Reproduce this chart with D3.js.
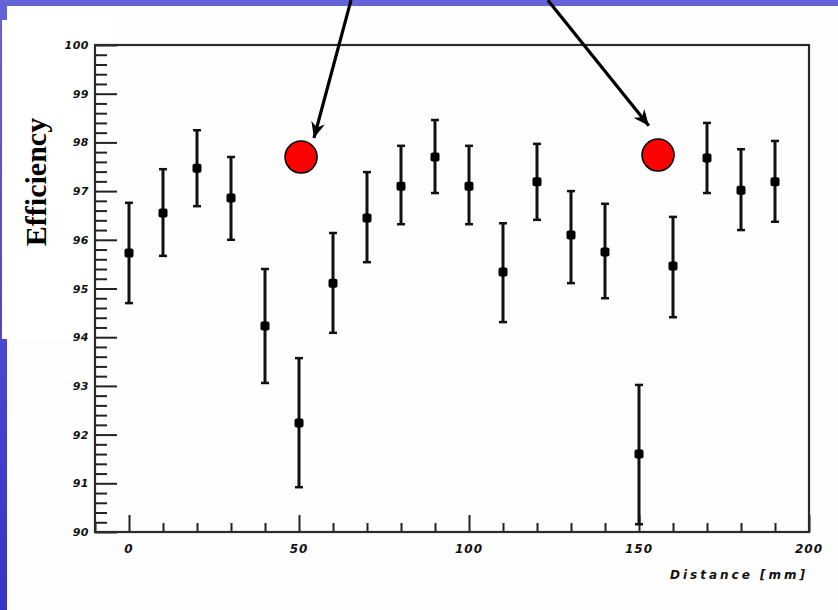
<!DOCTYPE html>
<html><head><meta charset="utf-8">
<script src="https://cdn.jsdelivr.net/npm/d3@7"></script>
<style>body{margin:0;background:#fff}svg{display:block}</style>
</head><body>
<svg id="c" width="838" height="610"></svg>
<script>
// ---- data ----
const distance = [0,10,20,30,40,50,60,70,80,90,100,110,120,130,140,150,160,170,180,190];
const efficiency = [0.9573,0.9655,0.9747,0.9686,0.9423,0.9224,0.9511,0.9645,0.9710,0.9770,0.9710,0.9534,0.9719,0.9610,0.9575,0.9160,0.9546,0.9768,0.9702,0.9719];
const errHigh = [0.9676,0.9745,0.9825,0.9770,0.9540,0.9357,0.9614,0.9739,0.9793,0.9846,0.9793,0.9634,0.9797,0.9700,0.9674,0.9302,0.9647,0.9840,0.9786,0.9803];
const errLow = [0.9470,0.9567,0.9669,0.9600,0.9306,0.9092,0.9409,0.9554,0.9632,0.9696,0.9632,0.9431,0.9641,0.9511,0.9480,0.9016,0.9441,0.9696,0.9620,0.9637];
const highlightX = [50.6, 155.6];
const highlightY = [0.9770, 0.9774];
const arrowFromX = [65.3, 123.2];
const arrowFromY = [1.0092, 1.0092];
const arrowToX = [54.4, 152.9];
const arrowToY = [0.9809, 0.9834];
const xTicks = [0,50,100,150,200];
const xTickLabels = ["0","50","100","150","200"];
const xMinor = [-10,10,20,30,40,60,70,80,90,110,120,130,140,160,170,180,190];
const yTicks = [0.90,0.91,0.92,0.93,0.94,0.95,0.96,0.97,0.98,0.99,1.00];
const yTickLabels = ["90","91","92","93","94","95","96","97","98","99","100"];
const xTitle = "Distance [mm]";
const yTitle = "Efficiency";

// ---- layout ----
const svg = d3.select("#c");
const L = 95, R = 809, T = 45, B = 532;
const x = d3.scaleLinear().domain([-10,200]).range([L,R]);
const y = d3.scaleLinear().domain([0.90,1.00]).range([B,T]);

// background (slide)
const defs = svg.append("defs");
const g = defs.append("linearGradient").attr("id","bg").attr("x1",0).attr("y1",0).attr("x2",0).attr("y2",1);
g.append("stop").attr("offset","0").attr("stop-color","#6463d8");
g.append("stop").attr("offset","1").attr("stop-color","#3731c6");
svg.append("rect").attr("width",838).attr("height",610).attr("fill","url(#bg)");
svg.append("rect").attr("x",7).attr("y",6).attr("width",831).attr("height",604).attr("fill","#fefefe");
svg.append("rect").attr("x",2).attr("y",20).attr("width",110).attr("height",319).attr("fill","#ffffff");

// axes with inward ticks
const yMinorVals = d3.range(0,51).map(i => 0.90 + i*0.002).filter(v => Math.abs(Math.round(v*100) - v*100) > 1e-6);
svg.append("g").attr("transform",`translate(${L},0)`)
  .call(d3.axisRight(y).tickValues(yMinorVals).tickSize(12).tickFormat(""))
  .call(s => s.select(".domain").remove());
svg.append("g").attr("transform",`translate(${L},0)`)
  .call(d3.axisRight(y).tickValues(yTicks).tickSize(22).tickFormat(""))
  .call(s => s.select(".domain").remove());
svg.append("g").attr("transform",`translate(0,${B})`)
  .call(d3.axisTop(x).tickValues(xMinor).tickSize(9).tickFormat(""))
  .call(s => s.select(".domain").remove());
svg.append("g").attr("transform",`translate(0,${B})`)
  .call(d3.axisTop(x).tickValues(xTicks).tickSize(17).tickFormat(""))
  .call(s => s.select(".domain").remove());
svg.selectAll(".tick line").attr("stroke","#222").attr("stroke-width",2);

// frame
svg.append("rect").attr("x",L).attr("y",T).attr("width",R-L).attr("height",B-T)
  .attr("fill","none").attr("stroke","#2a2a2a").attr("stroke-width",2.2);

// tick labels
const lblFont = "'DejaVu Sans', sans-serif";
svg.append("g").selectAll("text").data(yTicks).join("text")
  .attr("x",L-6).attr("y",d=>y(d)+4).attr("text-anchor","end")
  .attr("font-family",lblFont).attr("font-size",11).attr("font-weight","bold").attr("font-style","italic")
  .attr("letter-spacing",0.5).attr("fill","#111").text((d,i)=>yTickLabels[i]);
svg.append("g").selectAll("text").data(xTicks).join("text")
  .attr("x",d=>x(d)).attr("y",B+21).attr("text-anchor","middle")
  .attr("font-family",lblFont).attr("font-size",12).attr("font-weight","bold").attr("font-style","italic")
  .attr("letter-spacing",1).attr("fill","#111").text((d,i)=>xTickLabels[i]);

// titles
svg.append("text").attr("x",R-1).attr("y",B+47).attr("text-anchor","end")
  .attr("font-family",lblFont).attr("font-size",12).attr("font-weight","bold").attr("font-style","italic")
  .attr("letter-spacing",3).attr("fill","#111").text(xTitle);
svg.append("text").attr("transform","translate(46,182) rotate(-90)").attr("text-anchor","middle")
  .attr("font-family","'Liberation Serif', 'Times New Roman', serif").attr("font-size",30).attr("font-weight","bold")
  .attr("fill","#000").text(yTitle);

// error bars
const pts = distance.map((d,i)=>({x:d, v:efficiency[i], hi:errHigh[i], lo:errLow[i]}));
const eb = svg.append("g").attr("stroke","#111");
eb.selectAll("line.v").data(pts).join("line").attr("class","v")
  .attr("x1",d=>x(d.x)).attr("x2",d=>x(d.x)).attr("y1",d=>y(d.hi)).attr("y2",d=>y(d.lo)).attr("stroke-width",3);
eb.selectAll("line.t").data(pts).join("line").attr("class","t")
  .attr("x1",d=>x(d.x)-4).attr("x2",d=>x(d.x)+4).attr("y1",d=>y(d.hi)).attr("y2",d=>y(d.hi)).attr("stroke-width",2.5);
eb.selectAll("line.b").data(pts).join("line").attr("class","b")
  .attr("x1",d=>x(d.x)-4).attr("x2",d=>x(d.x)+4).attr("y1",d=>y(d.lo)).attr("y2",d=>y(d.lo)).attr("stroke-width",2.5);
svg.append("g").selectAll("rect").data(pts).join("rect")
  .attr("x",d=>x(d.x)-4.5).attr("y",d=>y(d.v)-4.5).attr("width",9).attr("height",9).attr("rx",2)
  .attr("fill","#000");

// highlight circles
svg.append("g").selectAll("circle").data(highlightX).join("circle")
  .attr("cx",d=>x(d)).attr("cy",(d,i)=>y(highlightY[i])).attr("r",16)
  .attr("fill","#ff0000").attr("stroke","#000").attr("stroke-width",1.6);

// arrows
defs.append("marker").attr("id","ah").attr("viewBox","-16 -8 18 16").attr("refX",0).attr("refY",0)
  .attr("markerWidth",18).attr("markerHeight",16).attr("markerUnits","userSpaceOnUse").attr("orient","auto")
  .append("path").attr("d","M0,0 L-16,-7 L-11,0 L-16,7 Z").attr("fill","#000");
svg.append("g").selectAll("line").data(arrowFromX).join("line")
  .attr("x1",d=>x(d)).attr("y1",(d,i)=>y(arrowFromY[i]))
  .attr("x2",(d,i)=>x(arrowToX[i])).attr("y2",(d,i)=>y(arrowToY[i]))
  .attr("stroke","#000").attr("stroke-width",3.2).attr("marker-end","url(#ah)");
</script>
</body></html>
